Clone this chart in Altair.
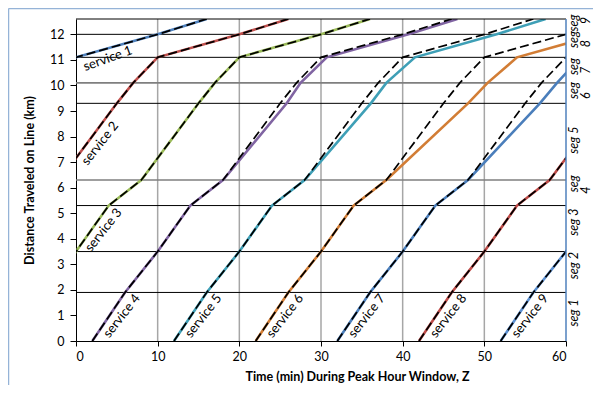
import altair as alt
import pandas as pd

# ---------------- data ----------------
SEG_BOUNDS = [0, 1.9, 3.5, 5.3, 6.3, 9.3, 10.1, 11.1, 12.0, 12.6]

SERVICES = ["service 1", "service 2", "service 3", "service 4", "service 5",
            "service 6", "service 7", "service 8", "service 9"]
COLORS = ["#4F81BD", "#C0504D", "#9BBB59", "#8064A2", "#3E9FB6",
          "#D27D35", "#4A7EBB", "#BE4B48", "#5B8FD0"]

# scheduled (dashed) times at each segment boundary
SCHED_TIMES = [
    [-28, -24, -20, -16, -12, -5, -3, 0, 10, 16],
    [-18, -14, -10, -6, -2, 5, 7, 10, 20, 26],
    [-8, -4, 0, 4, 8, 15, 17, 20, 30, 36],
    [2, 6, 10, 14, 18, 25, 27, 30, 40, 46],
    [12, 16, 20, 24, 28, 35, 37, 40, 50, 56],
    [22, 26, 30, 34, 38, 45, 47, 50, 60, 66],
    [32, 36, 40, 44, 48, 55, 57, 60, 70, 76],
    [42, 46, 50, 54, 58, 65, 67, 70, 80, 86],
    [52, 56, 60, 64, 68, 75, 77, 80, 90, 96],
]
# actual (coloured) times at each segment boundary
ACTUAL_TIMES = [
    [-28, -24, -20, -16, -12, -5, -3, 0, 10, 16],
    [-18, -14, -10, -6, -2, 5, 7, 10, 20, 26],
    [-8, -4, 0, 4, 8, 15, 17, 20, 30, 36],
    [2, 6, 10, 14, 18, 25.8, 27.5, 30.7, 40.7, 46.7],
    [12, 16, 20, 24, 28, 36.1, 38.0, 41.5, 51.5, 57.5],
    [22, 26, 30, 34, 38, 48.0, 50.4, 54.0, 64.0, 70.0],
    [32, 36, 40, 44, 48, 56.8, 58.9, 61.8, 71.8, 77.8],
    [42, 46, 50, 54, 58, 65, 67, 70, 80, 86],
    [52, 56, 60, 64, 68, 75, 77, 80, 90, 96],
]

GRID_X = [10, 20, 30, 40, 50]
SEG_LINES = [1.9, 3.5, 5.3, 6.3, 9.3, 10.1, 11.1, 12.0]
SEG_LINE_COLORS = ["#000000", "#000000", "#000000", "#7F7F7F",
                   "#000000", "#7F7F7F", "#000000", "#000000"]
SEG_LINE_WIDTHS = [1, 1, 1, 1.6, 1, 1.6, 1, 1]

SVC_LABEL_X = [3.9, 2.95, 3.37, 5.6, 15.6, 25.6, 35.6, 45.6, 55.6]
SVC_LABEL_Y = [11.05, 7.73, 4.34, 0.98, 0.98, 0.98, 0.98, 0.98, 0.98]
SVC_LABEL_ANGLE = [340, 308, 308, 308, 308, 308, 308, 308, 308]

SEG_WORD_TEXT = ["seg 1", "seg 2", "seg 3", "seg", "seg 5", "seg", "seg", "seg", "seg"]
SEG_WORD_Y = [1.1, 2.95, 4.65, 6.15, 7.86, 9.8, 10.74, 11.8, 12.44]
SEG_NUM_TEXT = ["4", "6", "7", "8", "9"]
SEG_NUM_Y = [5.9, 9.6, 10.59, 11.64, 12.54]

X_TICKS = [0, 10, 20, 30, 40, 50, 60]
Y_TICKS = list(range(0, 13))

# ---------------- tables ----------------
rows_a, rows_s = [], []
for s, ta, ts in zip(SERVICES, ACTUAL_TIMES, SCHED_TIMES):
    for i, (a, b, yv) in enumerate(zip(ta, ts, SEG_BOUNDS)):
        rows_a.append({"service": s, "i": i, "t": a, "d": yv})
        rows_s.append({"service": s, "i": i, "t": b, "d": yv})
actual_df = pd.DataFrame(rows_a)
sched_df = pd.DataFrame(rows_s)

grid_df = pd.DataFrame({"t": GRID_X})
seg_df = pd.DataFrame({"d": SEG_LINES, "c": SEG_LINE_COLORS, "w": SEG_LINE_WIDTHS})
svc_lab_df = pd.DataFrame({"t": SVC_LABEL_X, "d": SVC_LABEL_Y,
                           "a": SVC_LABEL_ANGLE, "txt": SERVICES})
seg_word_df = pd.DataFrame({"t": [60] * len(SEG_WORD_TEXT), "d": SEG_WORD_Y,
                            "txt": SEG_WORD_TEXT})
seg_num_df = pd.DataFrame({"t": [60] * len(SEG_NUM_TEXT), "d": SEG_NUM_Y,
                           "txt": SEG_NUM_TEXT})
top_df = pd.DataFrame({"d": [SEG_BOUNDS[-1]]})
right_df = pd.DataFrame({"t": [60]})

# ---------------- scales / axes ----------------
FONT = "Lato"
xscale = alt.Scale(domain=[0, 60], nice=False, zero=False)
yscale = alt.Scale(domain=[0, 12.6], nice=False, zero=False)
xaxis = alt.Axis(values=X_TICKS, title="Time (min) During Peak Hour Window, Z",
                 grid=False, tickSize=5, labelPadding=4, titleX=281, titleY=35,
                 titleBaseline="middle", titleAlign="center")
yaxis = alt.Axis(values=Y_TICKS, title="Distance Traveled on Line (km)",
                 grid=False, tickSize=6, labelPadding=6, titleX=-47, titleY=161,
                 titleBaseline="middle", titleAlign="center", titleAngle=270)


def X(f="t"):
    return alt.X(f"{f}:Q", scale=xscale, axis=xaxis)


def Y(f="d"):
    return alt.Y(f"{f}:Q", scale=yscale, axis=yaxis)


frame_v = alt.Chart().mark_rule(color="#95B3D7", strokeWidth=1.5).encode(
    x=alt.value(-67.5), y=alt.value(-10.5), y2=alt.value(400))
frame_h = alt.Chart().mark_rule(color="#95B3D7", strokeWidth=1.5).encode(
    x=alt.value(-67.5), x2=alt.value(600), y=alt.value(-10.5))

grid = alt.Chart(grid_df).mark_rule(color="#A6A6A6", strokeWidth=1.5).encode(x=X())

seglines = alt.Chart(seg_df).mark_rule().encode(
    y=Y(),
    color=alt.Color("c:N", scale=None),
    strokeWidth=alt.StrokeWidth("w:Q", scale=None),
)

colored = alt.Chart(actual_df).mark_line(strokeWidth=2.6, clip=True).encode(
    x=X(), y=Y(),
    color=alt.Color("service:N", scale=alt.Scale(domain=SERVICES, range=COLORS), legend=None),
    order=alt.Order("i:Q"),
)

dashed = alt.Chart(sched_df).mark_line(color="black", strokeWidth=1.7,
                                       strokeDash=[9, 4], clip=True).encode(
    x=X(), y=Y(), detail="service:N", order=alt.Order("i:Q"))

top_border = alt.Chart(top_df).mark_rule(color="black", strokeWidth=1).encode(y=Y())
right_border = alt.Chart(right_df).mark_rule(color="#4F81BD", strokeWidth=1.5).encode(x=X())

svc_labels = alt.Chart(svc_lab_df).mark_text(
    font=FONT, fontSize=13, color="black", align="center", baseline="middle").encode(
    x=X(), y=Y(), text="txt:N", angle=alt.Angle("a:Q", scale=None))

seg_words = alt.Chart(seg_word_df).mark_text(
    font=FONT, fontSize=12.5, fontStyle="italic", color="black", angle=270,
    align="center", baseline="middle", dy=8).encode(x=X(), y=Y(), text="txt:N")

seg_nums = alt.Chart(seg_num_df).mark_text(
    font=FONT, fontSize=12.5, fontStyle="italic", color="black", angle=270,
    align="center", baseline="middle", dy=20).encode(x=X(), y=Y(), text="txt:N")

chart = alt.layer(
    frame_v, frame_h, grid, seglines, colored, dashed, top_border, right_border,
    svc_labels, seg_words, seg_nums,
).properties(
    width=490, height=322,
    padding={"left": 68, "top": 11, "right": 27, "bottom": 44},
    autosize=alt.AutoSizeParams(type="none"),
).configure_view(stroke=None).configure_axis(
    labelFont=FONT, labelFontSize=12.5, labelColor="black",
    titleFont=FONT, titleFontSize=12.5, titleFontWeight="bold", titleColor="black",
    domainColor="black", tickColor="black", domainWidth=1,
)

chart.save("out.html", embed_options={"renderer": "svg", "actions": False})
